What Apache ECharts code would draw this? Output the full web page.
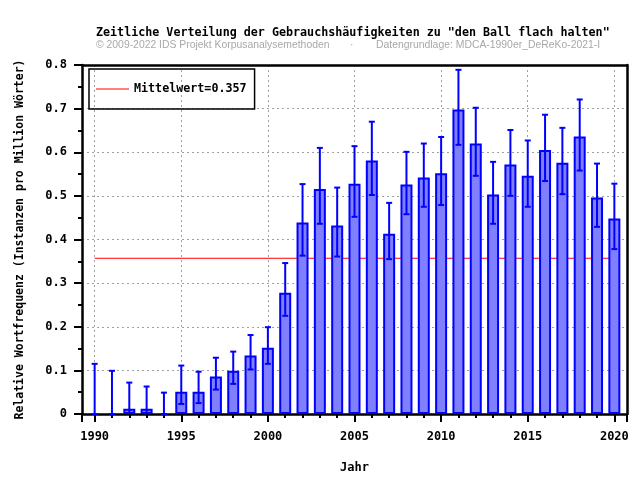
<!DOCTYPE html>
<html><head><meta charset="utf-8">
<script src="https://cdn.jsdelivr.net/npm/echarts@6/dist/echarts.min.js"></script>
<style>html,body{margin:0;padding:0;background:#fff}#c{width:640px;height:480px}</style>
</head><body><div id="c"></div>
<script>
const years = [1990,1991,1992,1993,1994,1995,1996,1997,1998,1999,2000,2001,2002,2003,2004,2005,2006,2007,2008,2009,2010,2011,2012,2013,2014,2015,2016,2017,2018,2019,2020];
const values = [0,0,0.012,0.012,0,0.051,0.051,0.086,0.099,0.134,0.152,0.278,0.439,0.516,0.432,0.528,0.581,0.413,0.526,0.542,0.552,0.698,0.620,0.503,0.572,0.546,0.605,0.576,0.636,0.496,0.448];
const errLow = [0,0,0.002,0.002,0,0.023,0.025,0.056,0.069,0.102,0.115,0.225,0.363,0.436,0.361,0.452,0.502,0.355,0.458,0.475,0.479,0.617,0.546,0.436,0.500,0.475,0.534,0.504,0.558,0.429,0.378];
const errHigh = [0.115,0.099,0.072,0.063,0.049,0.111,0.097,0.129,0.143,0.181,0.199,0.346,0.527,0.610,0.519,0.614,0.670,0.484,0.601,0.620,0.635,0.789,0.702,0.578,0.651,0.627,0.686,0.656,0.721,0.574,0.528];
const meanValue = 0.357;
const meanLabel = 'Mittelwert=0.357';
const xTickLabels = ['1990','1995','2000','2005','2010','2015','2020'];
const yTickLabels = ['0','0.1','0.2','0.3','0.4','0.5','0.6','0.7','0.8'];
const titleText = 'Zeitliche Verteilung der Gebrauchshäufigkeiten zu "den Ball flach halten"';
const creditLeft = '© 2009-2022 IDS Projekt Korpusanalysemethoden';
const creditDot = '·';
const creditRight = 'Datengrundlage: MDCA-1990er_DeReKo-2021-I';
const xName = 'Jahr';
const yName = 'Relative Wortfrequenz (Instanzen pro Million Wörter)';

const mono = 'DejaVu Sans Mono';
const chart = echarts.init(document.getElementById('c'), null, {renderer: 'canvas'});
const xMin = 1989.27, xMax = 2020.73;

const barData = years.map((y, i) => [y, values[i] === 0 ? null : values[i]]);
const errData = years.map((y, i) => [y, errLow[i], errHigh[i]]);
const creditStyle = {fontFamily: 'Liberation Sans', fontWeight: 'normal', fontSize: 10.4, color: '#a8a8a8'};

chart.setOption({
  animation: false,
  backgroundColor: '#fff',
  title: [
    {text: titleText, left: 96, top: 27, padding: 0, textStyle: {fontFamily: mono, fontWeight: 'bold', fontSize: 11.7, color: '#000'}},
    {text: creditLeft, left: 96, top: 40, padding: 0, textStyle: creditStyle},
    {text: creditDot, left: 350, top: 40, padding: 0, textStyle: creditStyle},
    {text: creditRight, left: 376, top: 40, padding: 0, textStyle: creditStyle}
  ],
  legend: {
    left: 89, top: 69,
    padding: [14, 8, 14, 7],
    borderColor: '#000', borderWidth: 1.5,
    icon: 'rect', itemWidth: 33, itemHeight: 1,
    textStyle: {fontFamily: mono, fontWeight: 'bold', fontSize: 11.7, color: '#000'},
    data: [meanLabel]
  },
  grid: {left: 82, top: 65, width: 545, height: 349, containLabel: false},
  xAxis: [{
    type: 'value', min: xMin, max: xMax, splitNumber: 6,
    name: xName, nameLocation: 'middle', nameGap: 48,
    nameTextStyle: {fontFamily: mono, fontWeight: 'bold', fontSize: 12, color: '#000'},
    axisLine: {lineStyle: {color: '#000', width: 2.5}},
    axisTick: {show: true, length: 8, lineStyle: {color: '#000', width: 2}},
    minorTick: {show: true, splitNumber: 5, length: 4, lineStyle: {color: '#000', width: 2}},
    axisLabel: {showMinLabel: false, showMaxLabel: false, margin: 17, fontFamily: mono, fontWeight: 'bold', fontSize: 12, color: '#000',
      formatter: v => { const s = String(Math.round(v)); return (Math.abs(v - Math.round(v)) < 1e-6 && xTickLabels.includes(s)) ? s : ''; }},
    splitLine: {show: true, lineStyle: {color: '#a0a0a0', width: 1, type: [2, 3]}}
  }, {
    type: 'value', position: 'top', min: xMin, max: xMax,
    axisLine: {show: true, onZero: false, lineStyle: {color: '#000', width: 2.5}},
    axisTick: {show: false}, axisLabel: {show: false}, splitLine: {show: false}
  }],
  yAxis: [{
    type: 'value', min: 0, max: 0.8, interval: 0.1,
    name: yName, nameLocation: 'middle', nameGap: 56, nameRotate: 90,
    nameTextStyle: {fontFamily: mono, fontWeight: 'bold', fontSize: 11.5, color: '#000'},
    axisLine: {show: true, lineStyle: {color: '#000', width: 2.5}},
    axisTick: {show: true, length: 8, lineStyle: {color: '#000', width: 2}},
    minorTick: {show: true, splitNumber: 2, length: 4, lineStyle: {color: '#000', width: 2}},
    axisLabel: {margin: 15, fontFamily: mono, fontWeight: 'bold', fontSize: 12, color: '#000',
      formatter: v => { const i = Math.round(v * 10); return yTickLabels[i] !== undefined ? yTickLabels[i] : ''; }},
    splitLine: {show: true, lineStyle: {color: '#a0a0a0', width: 1, type: [2, 3]}}
  }, {
    type: 'value', position: 'right', min: 0, max: 0.8,
    axisLine: {show: true, onZero: false, lineStyle: {color: '#000', width: 2.5}},
    axisTick: {show: false}, axisLabel: {show: false}, splitLine: {show: false}
  }],
  series: [
    {
      name: meanLabel, type: 'line', z: 1, symbol: 'none',
      lineStyle: {color: '#ff0000', width: 1}, itemStyle: {color: '#ff0000'},
      data: [[years[0], meanValue], [years[years.length - 1], meanValue]]
    },
    {
      type: 'bar', z: 2, barWidth: 12,
      itemStyle: {color: '#8080ff', borderColor: '#0000ff', borderWidth: 2},
      data: barData
    },
    {
      type: 'custom', z: 3,
      encode: {x: 0, y: [1, 2]},
      data: errData,
      renderItem: function (params, api) {
        const x = api.value(0);
        const lo = api.coord([x, api.value(1)]);
        const hi = api.coord([x, api.value(2)]);
        const hw = 3;
        const st = {stroke: '#0000ff', lineWidth: 2};
        return {type: 'group', children: [
          {type: 'line', shape: {x1: lo[0], y1: lo[1], x2: hi[0], y2: hi[1]}, style: st},
          {type: 'line', shape: {x1: hi[0] - hw, y1: hi[1], x2: hi[0] + hw, y2: hi[1]}, style: st},
          {type: 'line', shape: {x1: lo[0] - hw, y1: lo[1], x2: lo[0] + hw, y2: lo[1]}, style: st}
        ]};
      }
    }
  ]
});
</script></body></html>
